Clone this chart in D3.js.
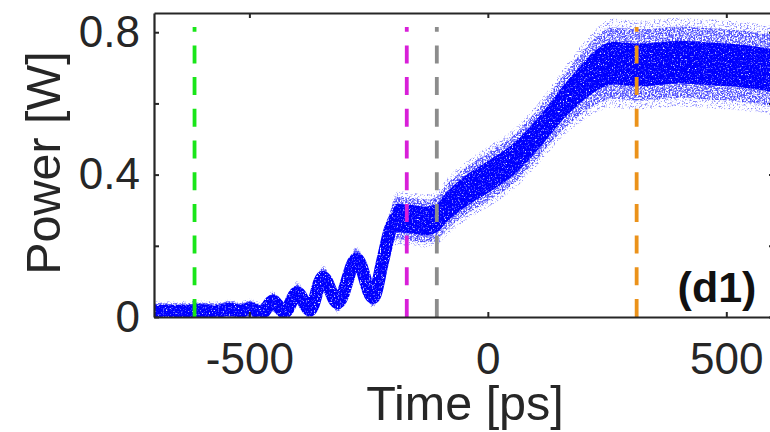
<!DOCTYPE html>
<html>
<head>
<meta charset="utf-8">
<script src="https://cdn.jsdelivr.net/npm/d3@7"></script>
<style>
body { margin: 0; background: #fff; }
text { font-family: "Liberation Sans", Arial, sans-serif; fill: #262626; }
</style>
</head>
<body>
<svg id="chart" width="770" height="432"></svg>
<script>
// trace: centre of the point cloud and how far it spreads
var time  = [-700, -650, -604, -570, -541, -520, -499, -474, -451, -426, -400, -373, -346, -315, -275, -241,
             -220, -205, -191, -164, -132, -107, -86, -52, 0, 52, 88, 124, 157, 193, 229, 262,
             312, 360, 403, 455, 507, 550, 600];
var power = [0.017, 0.016, 0.018, 0.016, 0.022, 0.016, 0.024, 0.012, 0.044, 0.014, 0.068, 0.020, 0.112, 0.040, 0.163, 0.055,
             0.160, 0.244, 0.278, 0.275, 0.270, 0.278, 0.309, 0.348, 0.393, 0.441, 0.489, 0.545, 0.601, 0.652, 0.694, 0.713,
             0.708, 0.712, 0.716, 0.712, 0.708, 0.702, 0.692];
var coreSpread = [0.012, 0.012, 0.012, 0.012, 0.012, 0.012, 0.012, 0.012, 0.012, 0.012, 0.012, 0.012, 0.012, 0.012, 0.012, 0.012,
                  0.020, 0.030, 0.040, 0.040, 0.040, 0.040, 0.042, 0.044, 0.045, 0.045, 0.045, 0.045, 0.047, 0.052, 0.058, 0.060,
                  0.060, 0.060, 0.060, 0.060, 0.060, 0.060, 0.060];
var haloSpread = [0.022, 0.022, 0.022, 0.022, 0.022, 0.022, 0.022, 0.022, 0.024, 0.022, 0.026, 0.022, 0.028, 0.024, 0.030, 0.024,
                  0.035, 0.050, 0.060, 0.060, 0.060, 0.060, 0.064, 0.066, 0.068, 0.068, 0.068, 0.070, 0.075, 0.085, 0.095, 0.100,
                  0.100, 0.100, 0.100, 0.100, 0.100, 0.100, 0.100];

// vertical markers
var markerTimes  = [-615, -170, -107, 312];
var markerColors = ["#19e619", "#d81fd8", "#8c8c8c", "#eb921a"];

var xTicks  = [-500, 0, 500];
var yTicks  = [0, 0.2, 0.4, 0.6, 0.8];
var yLabels = [0, 0.4, 0.8];

// set the dimensions and margins of the graph
var margin = { top: 13, left: 154 },
    width = 620,
    height = 304;

var svg = d3.select("#chart");
var g = svg.append("g")
    .attr("transform", "translate(" + margin.left + "," + margin.top + ")");

var x = d3.scaleLinear().domain([-700, 600]).range([0, width]);
var y = d3.scaleLinear().domain([0, 0.854]).range([height, 0]);

var rows = time.map(function (t, i) {
    return { t: t, p: power[i], c: coreSpread[i], h: haloSpread[i] };
});

// filters that break the bands up into speckle, like a dense point cloud
var defs = svg.append("defs");
defs.append("clipPath").attr("id", "plotClip")
    .append("rect").attr("width", width).attr("height", height);

function speckle(id, freq, gain, offset, seed, blur) {
    var f = defs.append("filter").attr("id", id)
        .attr("filterUnits", "userSpaceOnUse")
        .attr("x", 0).attr("y", 0).attr("width", width).attr("height", height);
    f.append("feTurbulence").attr("type", "fractalNoise")
        .attr("baseFrequency", freq).attr("numOctaves", 2).attr("seed", seed).attr("result", "n");
    f.append("feColorMatrix").attr("in", "n").attr("type", "matrix")
        .attr("values", "0 0 0 0 0  0 0 0 0 0  0 0 0 0 0  " + gain + " 0 0 0 " + offset)
        .attr("result", "a");
    f.append("feComposite").attr("in", "SourceGraphic").attr("in2", "a").attr("operator", "in")
        .attr("result", "s");
    f.append("feGaussianBlur").attr("in", "s").attr("stdDeviation", blur);
}
speckle("faint", 0.6, 5, -2.6, 2, 0.5);
speckle("sparse", 0.6, 5, -2.0, 4, 0.45);
speckle("dense", 0.65, 4, -0.8, 9, 0.4);

var data = g.append("g").attr("clip-path", "url(#plotClip)");

function band(k, key) {
    return d3.area()
        .x(function (d) { return x(d.t); })
        .y0(function (d) { return y(d.p - k * d[key]); })
        .y1(function (d) { return y(d.p + k * d[key]); })
        .curve(d3.curveMonotoneX);
}

var line = d3.line()
    .x(function (d) { return x(d.t); })
    .y(function (d) { return y(d.p); })
    .curve(d3.curveMonotoneX);

// outer stray points, then the main halo, then the solid core
data.append("g").attr("filter", "url(#faint)")
    .append("path").datum(rows)
    .attr("d", band(1.25, "h"))
    .style("fill", "#3c3cff")
    .style("opacity", 0.6);

data.append("g").attr("filter", "url(#sparse)")
    .append("path").datum(rows)
    .attr("d", band(1, "h"))
    .style("fill", "#2a2aff")
    .style("opacity", 0.8);

var dense = data.append("g").attr("filter", "url(#dense)");
dense.append("path").datum(rows)
    .attr("d", band(1, "c"))
    .style("fill", "#0000ff");
dense.append("path").datum(rows)
    .attr("d", line)
    .style("fill", "none")
    .style("stroke", "#0000ff")
    .style("stroke-width", 13)
    .style("stroke-linejoin", "round");

// dashed markers, drawn from the bottom up
g.append("g").selectAll("line")
    .data(markerTimes)
    .enter().append("line")
    .attr("x1", function (d) { return x(d); })
    .attr("x2", function (d) { return x(d); })
    .attr("y1", y(0))
    .attr("y2", y(0.815))
    .style("stroke", function (d, i) { return markerColors[i]; })
    .style("stroke-width", 3.8)
    .style("stroke-dasharray", "18,13.7");

// axes, ticks pointing inward on all four sides
function styleAxis(sel) {
    sel.selectAll("path.domain").style("stroke", "#262626").style("stroke-width", 2.2);
    sel.selectAll(".tick line").style("stroke", "#262626").style("stroke-width", 2);
    sel.selectAll("text").style("font-family", "'Liberation Sans', Arial, sans-serif")
        .style("font-size", "44px").style("fill", "#262626");
}

g.append("g")
    .attr("transform", "translate(0," + height + ")")
    .call(d3.axisBottom(x).tickValues(xTicks).tickSize(-5).tickSizeOuter(0).tickPadding(26)
        .tickFormat(function (d) { return String(d); }))
    .call(styleAxis);

g.append("g")
    .call(d3.axisTop(x).tickValues(xTicks).tickSize(-5).tickSizeOuter(0).tickFormat(""))
    .call(styleAxis);

g.append("g")
    .call(d3.axisLeft(y).tickValues(yTicks).tickSize(-5).tickSizeOuter(0).tickPadding(14)
        .tickFormat(function (d) { return yLabels.indexOf(d) >= 0 ? String(d) : ""; }))
    .call(styleAxis);

g.append("g")
    .attr("transform", "translate(" + width + ",0)")
    .call(d3.axisRight(y).tickValues(yTicks).tickSize(-5).tickSizeOuter(0).tickFormat(""))
    .call(styleAxis);

// axis titles
svg.append("text")
    .attr("x", 465)
    .attr("y", 420)
    .attr("text-anchor", "middle")
    .style("font-size", "48.5px")
    .text("Time [ps]");

svg.append("text")
    .attr("transform", "translate(60,163) rotate(-90)")
    .attr("text-anchor", "middle")
    .style("font-size", "48.5px")
    .text("Power [W]");

// panel tag
svg.append("text")
    .attr("x", 717)
    .attr("y", 302)
    .attr("text-anchor", "middle")
    .style("font-size", "43px")
    .style("font-weight", "bold")
    .style("fill", "#111")
    .text("(d1)");
</script>
</body>
</html>
